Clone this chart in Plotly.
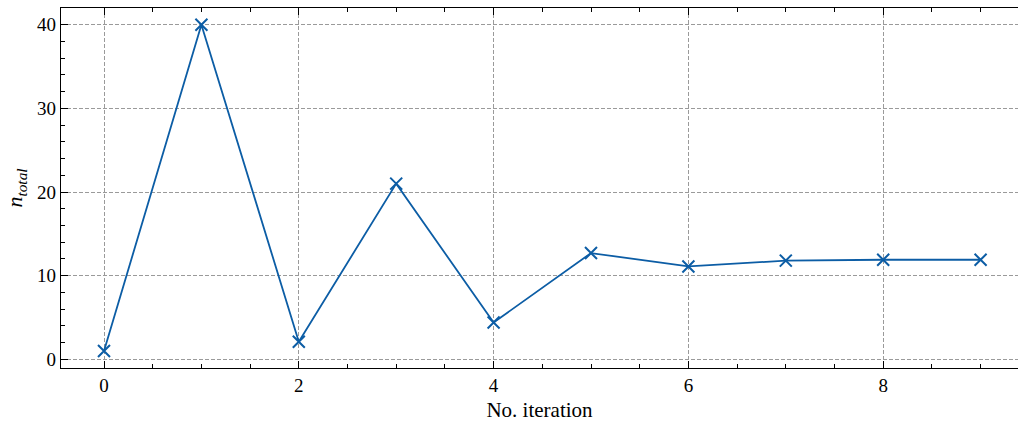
import plotly.graph_objects as go

iterations = [0, 1, 2, 3, 4, 5, 6, 7, 8, 9]
n_total = [1.0, 40.0, 2.1, 21.0, 4.4, 12.7, 11.1, 11.8, 11.9, 11.9]
x_ticks = [0, 2, 4, 6, 8]
y_ticks = [0, 10, 20, 30, 40]

color = "#0C5DA5"
font_family = "Liberation Serif"

fig = go.Figure()
fig.add_trace(go.Scatter(
    x=iterations, y=n_total, mode="lines+markers",
    line=dict(color=color, width=1.8),
    marker=dict(symbol="x-thin", size=12, line=dict(color=color, width=2)),
    showlegend=False,
))

axis_common = dict(
    showline=True, linecolor="black", linewidth=1.2,
    ticks="inside", ticklen=7, tickwidth=1, tickcolor="black",
    showgrid=True, gridcolor="#9a9a9a", griddash="4px,2px", gridwidth=1,
    zeroline=False,
    tickfont=dict(family=font_family, size=19, color="black"),
)

fig.update_xaxes(
    **axis_common,
    mirror="ticks",
    range=[-0.4415, 9.384],
    tickvals=x_ticks,
    minor=dict(ticks="inside", dtick=0.5, tick0=0, ticklen=3.5, tickcolor="black", showgrid=False),
    title=dict(text="No. iteration", font=dict(family=font_family, size=21, color="black"), standoff=8),
)
fig.update_yaxes(
    **axis_common,
    mirror=False,
    range=[-1.04, 42.0],
    tickvals=y_ticks,
    minor=dict(ticks="inside", dtick=2, tick0=0, ticklen=3.5, tickcolor="black", showgrid=False),
    title=dict(text="<i>n</i><sub><i>total</i></sub>", font=dict(family=font_family, size=22, color="black"), standoff=8),
)

fig.update_layout(
    width=1018, height=422,
    margin=dict(l=61, r=0, t=8, b=54),
    plot_bgcolor="white", paper_bgcolor="white",
    font=dict(family=font_family, color="black"),
)

fig.write_html("out.html")
